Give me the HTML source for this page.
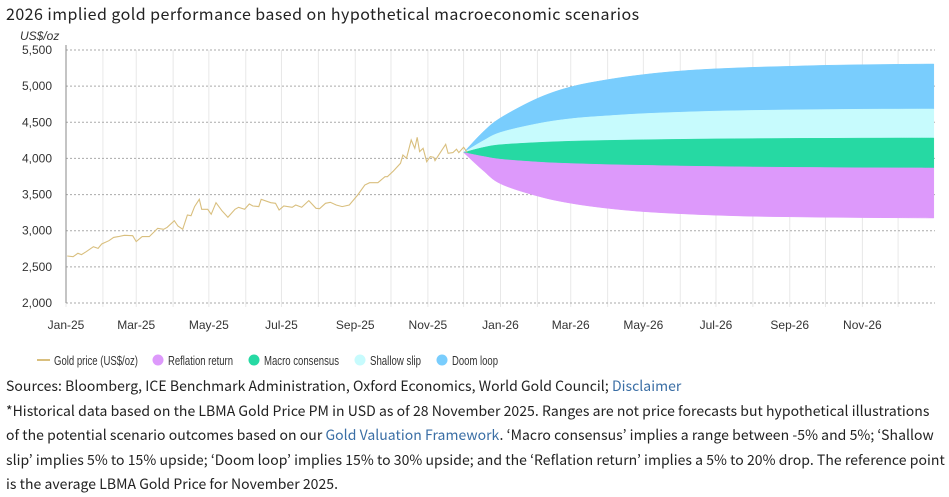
<!DOCTYPE html>
<html><head><meta charset="utf-8">
<style>
body{margin:0;background:#fff;width:949px;height:497px;overflow:hidden;position:relative;font-family:"Liberation Sans",sans-serif}
.title{position:absolute;left:6px;top:1px;font:16px "Noto Sans CJK JP","Liberation Sans",sans-serif;letter-spacing:0.45px;color:#222;white-space:nowrap}
.foot{position:absolute;left:6px;top:374px;width:945px;font:14px/24.6px "Noto Sans CJK JP","Liberation Sans",sans-serif;color:#222;letter-spacing:0.04px;white-space:nowrap}
.foot a{color:#3a6ea5;text-decoration:none}
svg{position:absolute;left:0;top:0}
</style></head><body>
<div class="title">2026 implied gold performance based on hypothetical macroeconomic scenarios</div>
<svg id="chart" width="949" height="370"></svg>
<div class="foot">Sources: Bloomberg, ICE Benchmark Administration, Oxford Economics, World Gold Council; <a href="#">Disclaimer</a><br>*Historical data based on the LBMA Gold Price PM in USD as of 28 November 2025. Ranges are not price forecasts but hypothetical illustrations<br>of the potential scenario outcomes based on our <a href="#">Gold Valuation Framework</a>. ‘Macro consensus’ implies a range between -5% and 5%; ‘Shallow<br>slip’ implies 5% to 15% upside; ‘Doom loop’ implies 15% to 30% upside; and the ‘Reflation return’ implies a 5% to 20% drop. The reference point<br>is the average LBMA Gold Price for November 2025.</div>
<script>
const goldDays=[1,6,10,13,17,23,27,30,36,40,44,49,56,59,64,70,77,82,85,91,94,98,102,105,108,112,114,119,122,126,131,136,142,145,150,154,157,162,164,172,176,179,183,190,193,198,204,210,213,218,222,227,232,238,245,251,255,262,268,270,275,281,283,286,290,293,295,297,300,303,306,309,310,314,319,321,325,328,330,334,337];
const goldValues=[2650,2641,2687,2669,2710,2779,2756,2816,2862,2908,2918,2936,2931,2849,2918,2918,3033,3019,3047,3139,3065,3019,3217,3208,3333,3434,3296,3296,3227,3388,3277,3186,3296,3324,3296,3370,3342,3333,3434,3388,3379,3287,3342,3324,3356,3324,3416,3310,3305,3379,3393,3356,3333,3356,3494,3632,3664,3664,3747,3747,3826,3932,4048,4002,4255,4140,4292,4094,4140,3955,4025,4016,3969,4071,4196,4071,4080,4127,4080,4154,4085];
const fanDays=[334,350,365,396,424,455,485,516,546,577,608,638,669,699,729];
const doomTop=[4082,4360,4560,4830,4990,5090,5160,5210,5240,5260,5275,5288,5296,5302,5307];
const shallowTop=[4082,4240,4360,4480,4550,4590,4620,4640,4655,4665,4672,4677,4681,4683,4684];
const macroTop=[4082,4150,4190,4220,4238,4250,4258,4265,4270,4274,4277,4279,4281,4282,4283];
const macroBottom=[4082,4030,3990,3950,3930,3915,3905,3895,3888,3882,3877,3874,3871,3869,3868];
const reflationBottom=[4082,3840,3650,3480,3380,3310,3265,3235,3215,3200,3192,3186,3181,3178,3176];
const yTicks=[2000,2500,3000,3500,4000,4500,5000,5500];
const monthLabels=["Jan-25","Mar-25","May-25","Jul-25","Sep-25","Nov-25","Jan-26","Mar-26","May-26","Jul-26","Sep-26","Nov-26"];
const monthStartDays=[0,31,59,90,120,151,181,212,243,273,304,334,365,396,424,455,485,516,546,577,608,638,669,699];

const NS="http://www.w3.org/2000/svg",svg=document.getElementById('chart');
const X0=66,X1=935,Y0=303,Y1=50;
const x=d=>X0+d*(X1-X0)/730;
const y=v=>Y0-(v-2000)*(Y0-Y1)/3500;
function mk(t,a,p){const e=document.createElementNS(NS,t);for(const k in a)e.setAttribute(k,a[k]);(p||svg).appendChild(e);return e;}
monthStartDays.forEach(d=>{const l=mk('line',{x1:x(d),x2:x(d),y1:Y1,y2:Y0+4,stroke:'#e8e8e8','stroke-width':1});

});
yTicks.forEach(v=>{const l=mk('line',{x1:X0,x2:X1,y1:y(v),y2:y(v),stroke:'#aaa','stroke-width':1,'stroke-dasharray':'2,2'});


const t=mk('text',{x:52,y:y(v)+4,'text-anchor':'end','font-size':12,fill:'#333'});t.textContent=v.toLocaleString('en-US');

});
const yt=mk('text',{x:20,y:40,'font-size':12,'font-style':'italic',fill:'#333'});yt.textContent='US$/oz';


monthLabels.forEach((m,i)=>{const t=mk('text',{x:x(monthStartDays[i*2]),y:329,'text-anchor':'middle','font-size':12,fill:'#333'});t.textContent=m;

});
function smooth(pts){let d='';for(let i=0;i<pts.length-1;i++){const p0=pts[Math.max(i-1,0)],p1=pts[i],p2=pts[i+1],p3=pts[Math.min(i+2,pts.length-1)];
const c1=[p1[0]+(p2[0]-p0[0])/6,p1[1]+(p2[1]-p0[1])/6],c2=[p2[0]-(p3[0]-p1[0])/6,p2[1]-(p3[1]-p1[1])/6];
d+=' C'+c1[0].toFixed(1)+','+c1[1].toFixed(1)+' '+c2[0].toFixed(1)+','+c2[1].toFixed(1)+' '+p2[0].toFixed(1)+','+p2[1].toFixed(1);}return d;}
function band(top,bot,fill,name){
const tp=fanDays.map((d,i)=>[x(d),y(top[i])]);
const bp=fanDays.map((d,i)=>[x(d),y(bot[i])]).reverse();
const d='M'+tp[0][0]+','+tp[0][1]+smooth(tp)+' L'+bp[0][0]+','+bp[0][1]+smooth(bp)+'Z';
const p=mk('path',{d:d,fill:fill,stroke:fill,'stroke-width':0.5});

}
band(doomTop,shallowTop,'#79cdfd','doom-loop-band');
band(shallowTop,macroTop,'#c7fbfd','shallow-slip-band');
band(macroTop,macroBottom,'#26d9a3','macro-consensus-band');
band(macroBottom,reflationBottom,'#dd99fb','reflation-return-band');
let gd='';goldDays.forEach((d,i)=>gd+=(i?'L':'M')+x(d).toFixed(1)+','+y(goldValues[i]).toFixed(1));
const gl=mk('path',{d:gd,fill:'none',stroke:'#d9bf7e','stroke-width':1.1});


const ax=mk('line',{x1:X0,x2:X0,y1:Y1-5,y2:Y0,stroke:'#888','stroke-width':1});


const lg=mk('g',{'font-size':13,fill:'#333'});


mk('line',{x1:37,x2:50,y1:360,y2:360,stroke:'#d9bf7e','stroke-width':2},lg);
const lt=mk('text',{x:54,y:365,textLength:84,lengthAdjust:'spacingAndGlyphs'},lg);lt.textContent='Gold price (US$/oz)';


[[158,'#dd99fb','Reflation return',65],[254,'#26d9a3','Macro consensus',75],[360,'#c7fbfd','Shallow slip',51],[442,'#79cdfd','Doom loop',46]].forEach(e=>{
mk('circle',{cx:e[0],cy:360,r:5.5,fill:e[1]},lg);
const t=mk('text',{x:e[0]+10,y:365,textLength:e[3],lengthAdjust:'spacingAndGlyphs'},lg);t.textContent=e[2];

});
</script>
</body></html>
